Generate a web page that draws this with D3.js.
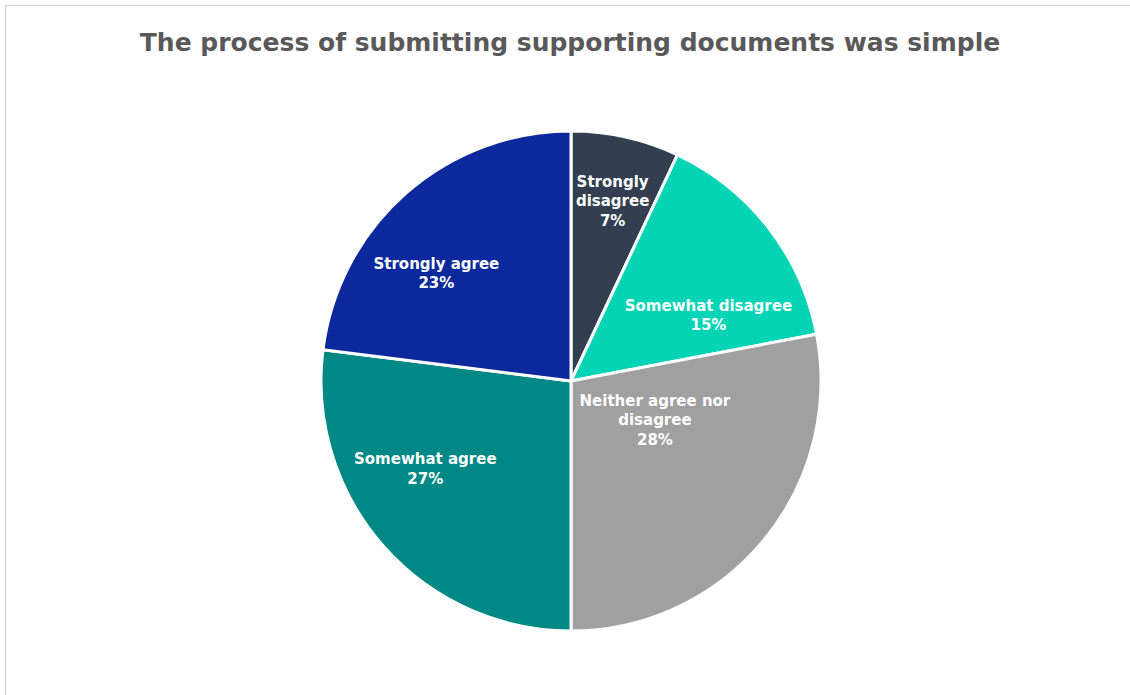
<!DOCTYPE html>
<html>
<head>
<meta charset="utf-8">
<script src="https://cdn.jsdelivr.net/npm/d3@7/dist/d3.min.js"></script>
<style>
  html, body { margin: 0; padding: 0; background: #ffffff; }
  svg { display: block; }
</style>
</head>
<body>
<svg id="chart" width="1130" height="695"></svg>
<script>
// Survey responses: "The process of submitting supporting documents was simple"
const categories = [
  "Strongly disagree",
  "Somewhat disagree",
  "Neither agree nor disagree",
  "Somewhat agree",
  "Strongly agree"
];
const values = [7, 15, 28, 27, 23];
const colors = ["#333f50", "#03d4b5", "#a0a0a0", "#008886", "#0b299c"];
// Label text broken into lines, as laid out inside each slice
const labelLines = [
  ["Strongly", "disagree"],
  ["Somewhat disagree"],
  ["Neither agree nor", "disagree"],
  ["Somewhat agree"],
  ["Strongly agree"]
];
// Label anchor per slice: angle shift from slice middle (deg) and radius fraction
const labelPlacement = [
  { dAngle: 0.4, r: 0.74 },
  { dAngle: 12.1, r: 0.61 },
  { dAngle: -14.7, r: 0.37 },
  { dAngle: 10.4, r: 0.68 },
  { dAngle: -9.9, r: 0.69 }
];
const title = "The process of submitting supporting documents was simple";

const W = 1130, H = 695;
const cx = 571, cy = 381, radius = 250;
const FONT = "'DejaVu Sans', 'Open Sans', sans-serif";

const svg = d3.select("#chart");

// Outer frame
svg.append("rect")
  .attr("x", 5.5).attr("y", 5.5)
  .attr("width", W + 10).attr("height", H + 10)
  .attr("fill", "#ffffff")
  .attr("stroke", "#d9d9d9")
  .attr("stroke-width", 1.5);

// Title
svg.append("text")
  .attr("x", 570).attr("y", 51)
  .attr("text-anchor", "middle")
  .attr("font-family", FONT)
  .attr("font-weight", 700)
  .attr("font-size", 25)
  .attr("fill", "#595959")
  .text(title);

const data = categories.map((c, i) => ({ category: c, value: values[i], color: colors[i], lines: labelLines[i], place: labelPlacement[i] }));

const pie = d3.pie().value(d => d.value).sort(null);
const arc = d3.arc().innerRadius(0).outerRadius(radius);
const arcs = pie(data);

const g = svg.append("g").attr("transform", `translate(${cx},${cy})`);

g.selectAll("path.slice")
  .data(arcs)
  .join("path")
  .attr("class", "slice")
  .attr("d", arc)
  .attr("fill", d => d.data.color)
  .attr("stroke", "#ffffff")
  .attr("stroke-width", 3)
  .attr("stroke-linejoin", "round");

// Data labels: category name and percentage
const lineH = 19.5;
const labels = g.selectAll("g.label")
  .data(arcs)
  .join("g")
  .attr("class", "label")
  .attr("transform", d => {
    const mid = (d.startAngle + d.endAngle) / 2 + d.data.place.dAngle * Math.PI / 180;
    const r = radius * d.data.place.r;
    return `translate(${r * Math.sin(mid)},${-r * Math.cos(mid)})`;
  });

labels.each(function(d) {
  const lines = d.data.lines.concat([d.data.value + "%"]);
  const n = lines.length;
  const t = d3.select(this).append("text")
    .attr("text-anchor", "middle")
    .attr("font-family", FONT)
    .attr("font-weight", 700)
    .attr("font-size", 15)
    .attr("fill", "#ffffff");
  lines.forEach((ln, i) => {
    t.append("tspan")
      .attr("x", 0)
      .attr("y", (i - (n - 1) / 2) * lineH + 5.5)
      .text(ln);
  });
});
</script>
</body>
</html>
